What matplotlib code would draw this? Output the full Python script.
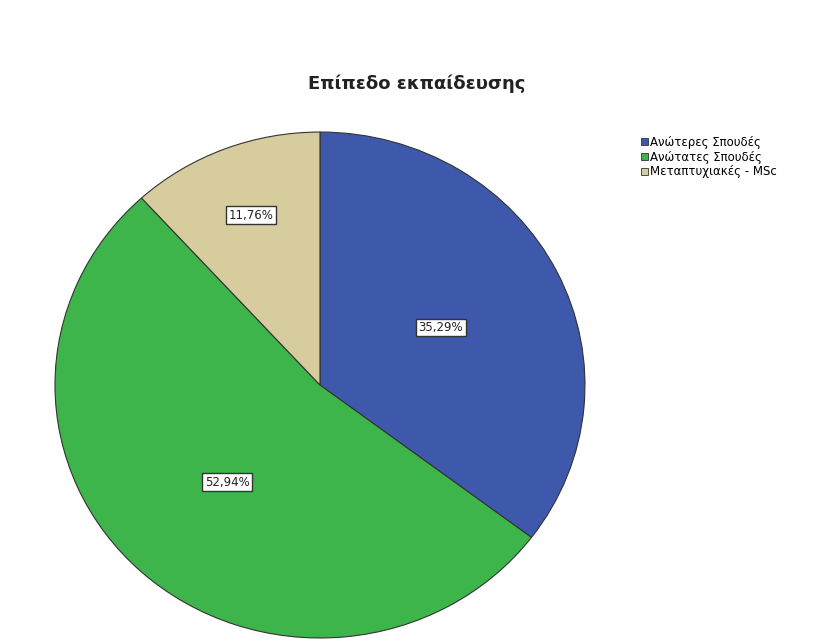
import numpy as np
import matplotlib.pyplot as plt
from matplotlib.patches import Patch

labels = ['Ανώτερες Σπουδές', 'Ανώτατες Σπουδές', 'Μεταπτυχιακές - MSc']
values = [35.29, 52.94, 11.76]
colors = ['#3e58ac', '#3db54a', '#d6cc9e']
label_r = [0.51, 0.52, 0.72]

fig = plt.figure(figsize=(8.17, 6.41), dpi=100)
fig.text(0.510, 0.869, 'Επίπεδο εκπαίδευσης', ha='center', va='center',
         fontsize=13, fontweight='bold', color='#222222')

ax = fig.add_axes([0.0673, 0.0047, 0.6487, 0.7893])
wedges, _ = ax.pie(values, colors=colors, startangle=90, counterclock=False,
                   wedgeprops=dict(edgecolor='#333333', linewidth=0.8))
ax.set_aspect('auto')
ax.set_xlim(-1, 1)
ax.set_ylim(-1, 1)

for w, v, r in zip(wedges, values, label_r):
    ang = np.deg2rad((w.theta1 + w.theta2) / 2)
    ax.text(r * np.cos(ang), r * np.sin(ang), f'{v:.2f}%'.replace('.', ','),
            ha='center', va='center', fontsize=8.5, color='#222222',
            bbox=dict(boxstyle='square,pad=0.2', facecolor='white',
                      edgecolor='#333333', linewidth=1.0))

handles = [Patch(facecolor=c, edgecolor='#333333', linewidth=0.6) for c in colors]
fig.legend(handles, labels, loc='upper left', bbox_to_anchor=(0.785, 0.788),
           frameon=False, fontsize=8.5, handlelength=0.6, handleheight=0.6,
           handletextpad=0.15, labelspacing=0.15, borderpad=0, borderaxespad=0)

fig.savefig('out.png', dpi=100)
